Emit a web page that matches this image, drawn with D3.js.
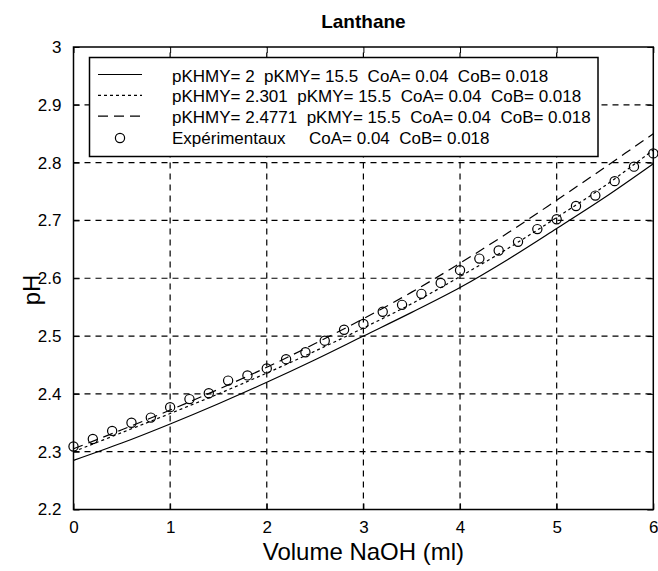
<!DOCTYPE html>
<html>
<head>
<meta charset="utf-8">
<script src="https://cdn.jsdelivr.net/npm/d3@7"></script>
<style>
  html, body { margin: 0; padding: 0; background: #fff; }
  svg { display: block; }
  text { font-family: "Liberation Sans", Arial, sans-serif; fill: #000; }
</style>
</head>
<body>
<script>
// ---- Data ----
const title = "Lanthane";
const xLabel = "Volume NaOH (ml)";
const yLabel = "pH";
const xTicks = [0, 1, 2, 3, 4, 5, 6];
const yTicks = [2.2, 2.3, 2.4, 2.5, 2.6, 2.7, 2.8, 2.9, 3.0];
const yTickLabels = ["2.2", "2.3", "2.4", "2.5", "2.6", "2.7", "2.8", "2.9", "3"];

const curveX = [0, 0.5, 1, 1.5, 2, 2.5, 3, 3.5, 4, 4.5, 5, 5.5, 6];
const pKHMY2 = [2.285, 2.315, 2.348, 2.383, 2.420, 2.459, 2.500, 2.541, 2.584, 2.633, 2.686, 2.740, 2.798];
const pKHMY2301 = [2.300, 2.333, 2.366, 2.400, 2.436, 2.474, 2.514, 2.556, 2.603, 2.652, 2.705, 2.760, 2.822];
const pKHMY24771 = [2.305, 2.338, 2.372, 2.408, 2.446, 2.487, 2.530, 2.576, 2.626, 2.679, 2.735, 2.792, 2.850];

const expX = [0, 0.2, 0.4, 0.6, 0.8, 1.0, 1.2, 1.4, 1.6, 1.8, 2.0, 2.2, 2.4, 2.6, 2.8, 3.0,
              3.2, 3.4, 3.6, 3.8, 4.0, 4.2, 4.4, 4.6, 4.8, 5.0, 5.2, 5.4, 5.6, 5.8, 6.0];
const expY = [2.309, 2.322, 2.336, 2.350, 2.359, 2.377, 2.391, 2.401, 2.423, 2.432, 2.444, 2.460,
              2.472, 2.492, 2.511, 2.521, 2.542, 2.554, 2.573, 2.592, 2.614, 2.634, 2.648, 2.663,
              2.685, 2.702, 2.725, 2.743, 2.768, 2.793, 2.816];

const legendLabels = [
  "pKHMY= 2  pKMY= 15.5  CoA= 0.04  CoB= 0.018",
  "pKHMY= 2.301  pKMY= 15.5  CoA= 0.04  CoB= 0.018",
  "pKHMY= 2.4771  pKMY= 15.5  CoA= 0.04  CoB= 0.018",
  "Expérimentaux     CoA= 0.04  CoB= 0.018"
];

// ---- Drawing ----
const W = 658, H = 571;
const svg = d3.select("body").append("svg").attr("width", W).attr("height", H);

const x = d3.scaleLinear().domain([0, 6]).range([73.5, 653.3]);
const y = d3.scaleLinear().domain([2.2, 3.0]).range([509.5, 47]);

const [x0, x1] = x.range();
const [y0, y1] = y.range();

// grid
const grid = svg.append("g").attr("stroke", "#000").attr("stroke-width", 1.2)
  .attr("stroke-dasharray", "6,5");
grid.selectAll("line.gx").data(xTicks.slice(1, -1)).join("line")
  .attr("x1", d => x(d)).attr("x2", d => x(d)).attr("y1", y0).attr("y2", y1);
grid.selectAll("line.gy").data(yTicks.slice(1, -1)).join("line")
  .attr("y1", d => y(d)).attr("y2", d => y(d)).attr("x1", x0).attr("x2", x1);

// axes with inward ticks
const tickLen = 6;
svg.append("g").attr("transform", `translate(0,${y0})`)
  .call(d3.axisBottom(x).tickValues(xTicks).tickSizeInner(-tickLen).tickSizeOuter(0).tickPadding(11).tickFormat(d3.format("d")))
  .call(g => g.select(".domain").remove())
  .call(g => g.selectAll("text").attr("font-size", 17).attr("font-family", "Liberation Sans, Arial, sans-serif"));
svg.append("g").attr("transform", `translate(${x0},0)`)
  .call(d3.axisLeft(y).tickValues(yTicks).tickSizeInner(-tickLen).tickSizeOuter(0).tickPadding(12).tickFormat((d, i) => yTickLabels[i]))
  .call(g => g.select(".domain").remove())
  .call(g => g.selectAll("text").attr("font-size", 17).attr("font-family", "Liberation Sans, Arial, sans-serif"));
svg.append("g").attr("transform", `translate(0,${y1})`)
  .call(d3.axisTop(x).tickValues(xTicks).tickSizeInner(-tickLen).tickSizeOuter(0).tickFormat(""))
  .call(g => g.select(".domain").remove());
svg.append("g").attr("transform", `translate(${x1},0)`)
  .call(d3.axisRight(y).tickValues(yTicks).tickSizeInner(-tickLen).tickSizeOuter(0).tickFormat(""))
  .call(g => g.select(".domain").remove());

// box
svg.append("rect").attr("x", x0).attr("y", y1).attr("width", x1 - x0).attr("height", y0 - y1)
  .attr("fill", "none").attr("stroke", "#000").attr("stroke-width", 1.5);

// curves
const line = d3.line().x(d => x(d[0])).y(d => y(d[1])).curve(d3.curveCatmullRom.alpha(0.5));
const series = [
  { vals: pKHMY2, dash: null },
  { vals: pKHMY2301, dash: "3,3" },
  { vals: pKHMY24771, dash: "10,6" }
];
series.forEach(s => {
  svg.append("path").datum(curveX.map((v, i) => [v, s.vals[i]]))
    .attr("d", line).attr("fill", "none").attr("stroke", "#000").attr("stroke-width", 1.2)
    .attr("stroke-dasharray", s.dash);
});

// experimental points
svg.append("g").selectAll("circle").data(expX.map((v, i) => [v, expY[i]])).join("circle")
  .attr("cx", d => x(d[0])).attr("cy", d => y(d[1])).attr("r", 4.6)
  .attr("fill", "none").attr("stroke", "#000").attr("stroke-width", 1.2);

// legend
const lg = svg.append("g");
lg.append("rect").attr("x", 89.5).attr("y", 57.5).attr("width", 508.5).attr("height", 99)
  .attr("fill", "#fff").attr("stroke", "#000").attr("stroke-width", 1.5);
const baselines = [81.5, 102.3, 123.1, 144];
const dashes = [null, "3,3", "10,6"];
legendLabels.forEach((lab, i) => {
  const by = baselines[i];
  if (i < 3) {
    lg.append("line").attr("x1", 98).attr("x2", 142).attr("y1", by - 7).attr("y2", by - 7)
      .attr("stroke", "#000").attr("stroke-width", 1.2).attr("stroke-dasharray", dashes[i]);
  } else {
    lg.append("circle").attr("cx", 120).attr("cy", by - 6).attr("r", 4.6)
      .attr("fill", "none").attr("stroke", "#000").attr("stroke-width", 1.2);
  }
  lg.append("text").attr("x", 172).attr("y", by).attr("font-size", 17)
    .style("white-space", "pre").text(lab);
});

// title and labels
svg.append("text").attr("x", (x0 + x1) / 2).attr("y", 28).attr("text-anchor", "middle")
  .attr("font-size", 19).attr("font-weight", "bold").text(title);
svg.append("text").attr("x", (x0 + x1) / 2).attr("y", 560).attr("text-anchor", "middle")
  .attr("font-size", 24).text(xLabel);
svg.append("text").attr("transform", `translate(40,290) rotate(-90)`)
  .attr("text-anchor", "middle").attr("font-size", 24).text(yLabel);
</script>
</body>
</html>
